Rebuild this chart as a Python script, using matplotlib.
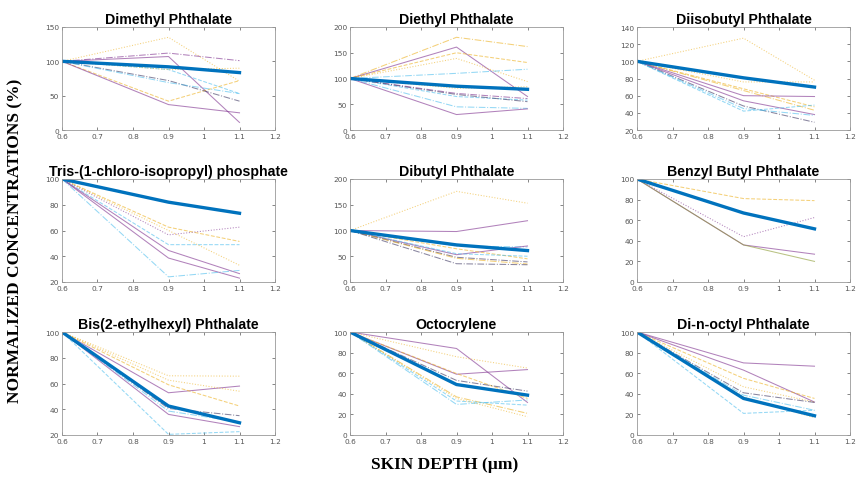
import matplotlib
matplotlib.use("Agg")
import matplotlib.pyplot as plt
import numpy as np

# skin depths (um)
depth = [0.6, 0.9, 1.1]

titles = ["Dimethyl Phthalate", "Diethyl Phthalate", "Diisobutyl Phthalate",
          "Tris-(1-chloro-isopropyl) phosphate", "Dibutyl Phthalate", "Benzyl Butyl Phthalate",
          "Bis(2-ethylhexyl) Phthalate", "Octocrylene", "Di-n-octyl Phthalate"]

ylims = [(0, 150), (0, 200), (20, 140), (20, 100), (0, 200), (0, 100), (20, 100), (0, 100), (0, 100)]
ysteps = [50, 50, 20, 20, 50, 20, 20, 20, 20]

# mean curve of each compound (thick blue)
mean_vals = [
    [100, 92, 83.6], [100, 85, 79], [100, 80.8, 70],
    [100, 82, 73.4], [100, 72, 61], [100, 67, 51.6],
    [100, 42.5, 29.5], [100, 49, 38.7], [100, 35.5, 18.7],
]

# individual subjects, values at 0.6 / 0.9 / 1.1
dimethyl = [[100, 135, 71], [100, 112, 101], [100, 107, 11], [100, 88, 53], [100, 42, 72],
            [100, 72, 42], [100, 69, 53], [100, 37, 25], [100, 88, 90]]
diethyl = [[100, 180, 162], [100, 161, 65], [100, 150, 131], [100, 139, 94], [100, 110, 118],
           [100, 81, 84], [100, 71, 61], [100, 65, 58], [100, 69, 55], [100, 45, 42], [100, 30, 41]]
diisobutyl = [[100, 127, 78], [100, 76, 76], [100, 68, 47], [100, 66, 43], [100, 60, 59],
              [100, 54, 38], [100, 48, 29], [100, 42, 49], [100, 45, 37]]
tris = [[100, 62.6, 51.5], [100, 56.6, 62.6], [100, 60, 33], [100, 49, 49],
        [100, 44.5, 26.5], [100, 38.6, 23], [100, 24, 29]]
dibutyl = [[100, 176, 153], [100, 98, 119], [100, 70, 68], [100, 53, 70], [100, 64.5, 45],
           [100, 55, 50], [100, 48, 39], [100, 46, 35], [100, 35.5, 33.5]]
benzyl = [[100, 81, 79], [100, 44, 62.6], [100, 36, 27], [100, 36, 20]]
bis_eh = [[100, 66, 65.7], [100, 52.8, 58], [100, 62.6, 54], [100, 59, 42.5],
          [100, 40.6, 35], [100, 38.6, 30], [100, 36, 26.5], [100, 20.5, 22.6]]
octocrylene = [[100, 84, 31.6], [100, 76, 65], [100, 59, 63.5], [100, 59.7, 35.5],
               [100, 53, 42.6], [100, 37, 21], [100, 33, 29], [100, 29.7, 34], [100, 35.5, 17.7]]
dioctyl = [[100, 70, 66.8], [100, 63, 32], [100, 55, 35.5], [100, 46.8, 32], [100, 41, 31.6],
           [100, 38.7, 24], [100, 21, 24], [100, 37, 16.8]]

subjects = [dimethyl, diethyl, diisobutyl, tris, dibutyl, benzyl, bis_eh, octocrylene, dioctyl]

PUR, YEL, CYA, DRK, GRN = "#7E2F8E", "#EDB120", "#4DBEEE", "#3b3560", "#8a9a30"
styles = [
    [(YEL, ":"), (PUR, "-."), (PUR, "-"), (CYA, "--"), (YEL, "--"), (DRK, "-."), (CYA, "-."), (PUR, "-"), (YEL, ":")],
    [(YEL, "-."), (PUR, "-"), (YEL, "--"), (YEL, ":"), (CYA, "-."), (YEL, ":"), (PUR, "-."), (CYA, "--"), (DRK, "-."), (CYA, "-."), (PUR, "-")],
    [(YEL, ":"), (YEL, ":"), (YEL, "--"), (YEL, "-."), (PUR, "-"), (PUR, "-"), (DRK, "-."), (CYA, "--"), (CYA, "-.")],
    [(YEL, "--"), (PUR, ":"), (YEL, ":"), (CYA, "--"), (PUR, "-"), (PUR, "-"), (CYA, "-.")],
    [(YEL, ":"), (PUR, "-"), (CYA, "-."), (PUR, "-"), (YEL, "--"), (CYA, "--"), (DRK, "-."), (YEL, "-."), (DRK, "-.")],
    [(YEL, "--"), (PUR, ":"), (PUR, "-"), (GRN, "-")],
    [(YEL, ":"), (PUR, "-"), (YEL, ":"), (YEL, "--"), (DRK, "-."), (CYA, "-."), (PUR, "-"), (CYA, "--")],
    [(PUR, "-"), (YEL, ":"), (PUR, "-"), (YEL, "--"), (DRK, "-."), (YEL, "-."), (CYA, "--"), (CYA, "-."), (YEL, ":")],
    [(PUR, "-"), (PUR, "-"), (YEL, "--"), (YEL, ":"), (DRK, "-."), (CYA, "-."), (CYA, "--"), (YEL, ":")],
]

fig = plt.figure(figsize=(8.58, 4.81), dpi=100)

col_left = [62, 350, 637]
row_top = [28, 180, 333]
W, H = 858.0, 481.0
aw, ah = 213, 103

for i in range(9):
    r, c = divmod(i, 3)
    ax = fig.add_axes([col_left[c] / W, 1 - (row_top[r] + ah) / H, aw / W, ah / H])
    for vals, (col, ls) in zip(subjects[i], styles[i]):
        ax.plot(depth, vals, color=col, ls=ls, lw=0.75, alpha=0.6)
    ax.plot(depth, mean_vals[i], color="#0072BD", lw=2.4)
    ax.set_xlim(0.6, 1.2)
    ax.set_ylim(*ylims[i])
    ax.set_yticks(np.arange(ylims[i][0], ylims[i][1] + 1, ysteps[i]))
    ax.set_xticks([0.6, 0.7, 0.8, 0.9, 1.0, 1.1, 1.2])
    ax.set_xticklabels(["0.6", "0.7", "0.8", "0.9", "1", "1.1", "1.2"])
    ax.tick_params(direction="in", top=True, right=True, labelsize=5.3, length=2.5,
                   width=0.5, colors="#555555", pad=2)
    for sp in ax.spines.values():
        sp.set_color("#999999")
        sp.set_linewidth(0.6)
    ax.set_title(titles[i], fontsize=10.2, fontweight="bold", family="Liberation Sans", pad=3)

fig.text(0.018, 0.5, "NORMALIZED CONCENTRATIONS (%)", rotation=90, va="center", ha="center",
         family="Liberation Serif", fontweight="bold", fontsize=12.5)
fig.text(0.518, 0.033, "SKIN DEPTH (\u00b5m)", ha="center", va="center",
         family="Liberation Serif", fontweight="bold", fontsize=12.5)

fig.savefig("out.png", dpi=100)
